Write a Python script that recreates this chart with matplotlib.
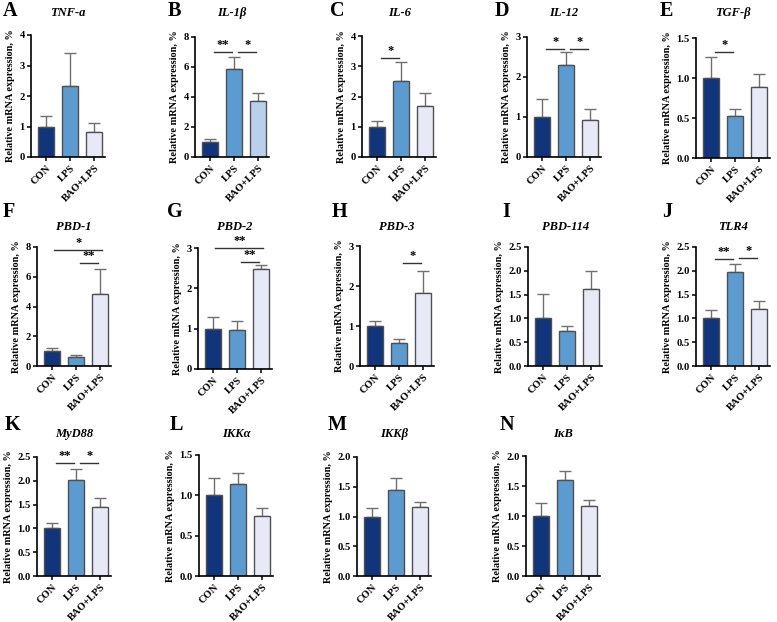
import matplotlib
matplotlib.use("Agg")
import matplotlib.pyplot as plt
import numpy as np

plt.rcParams['font.family'] = ['Liberation Serif', 'DejaVu Serif']
plt.rcParams['font.weight'] = 'bold'

groups = ["CON", "LPS", "BAO+LPS"]

letters = ["A", "B", "C", "D", "E", "F", "G", "H", "I", "J", "K", "L", "M", "N"]
genes = ["TNF-a", "IL-1β", "IL-6", "IL-12", "TGF-β", "PBD-1", "PBD-2", "PBD-3",
         "PBD-114", "TLR4", "MyD88", "IKKα", "IKKβ", "IκB"]

means = [
    [1.00, 2.32, 0.83],
    [1.00, 5.88, 3.75],
    [1.00, 2.50, 1.68],
    [1.00, 2.30, 0.92],
    [1.00, 0.52, 0.89],
    [1.00, 0.62, 4.85],
    [1.00, 0.96, 2.48],
    [1.00, 0.58, 1.82],
    [1.00, 0.73, 1.61],
    [1.00, 1.97, 1.20],
    [1.00, 2.02, 1.46],
    [1.00, 1.14, 0.74],
    [1.00, 1.45, 1.16],
    [1.00, 1.60, 1.16],
]
errors = [
    [0.33, 1.10, 0.30],
    [0.17, 0.80, 0.55],
    [0.18, 0.63, 0.45],
    [0.44, 0.33, 0.28],
    [0.26, 0.09, 0.16],
    [0.22, 0.15, 1.65],
    [0.30, 0.24, 0.09],
    [0.12, 0.09, 0.56],
    [0.52, 0.11, 0.39],
    [0.17, 0.17, 0.16],
    [0.11, 0.22, 0.17],
    [0.22, 0.14, 0.10],
    [0.15, 0.20, 0.08],
    [0.21, 0.15, 0.11],
]
ymax = [4, 8, 4, 3, 1.5, 8, 3, 3, 2.5, 2.5, 2.5, 1.5, 2.0, 2.0]
ystep = [1, 2, 1, 1, 0.5, 2, 1, 1, 0.5, 0.5, 0.5, 0.5, 0.5, 0.5]

# significance: (panel index, group i, group j, y, label)
sig = [
    (1, 0, 1, 7.0, "**"), (1, 1, 2, 7.0, "*"),
    (2, 0, 1, 3.26, "*"),
    (3, 0, 1, 2.69, "*"), (3, 1, 2, 2.69, "*"),
    (4, 0, 1, 1.32, "*"),
    (5, 0, 2, 7.8, "*"), (5, 1, 2, 6.94, "**"),
    (6, 0, 2, 2.99, "**"), (6, 1, 2, 2.65, "**"),
    (7, 1, 2, 2.57, "*"),
    (9, 0, 1, 2.24, "**"), (9, 1, 2, 2.27, "*"),
    (10, 0, 1, 2.37, "**"), (10, 1, 2, 2.37, "*"),
]

colors = ["#10357a", "#5b9bd0", "#e7e9f7"]
colors_B = ["#10357a", "#5b9bd0", "#b9d0ec"]

W, H = 777, 622
fig = plt.figure(figsize=(W / 100, H / 100), dpi=100)

# pixel layout: (axis left x, top y, bottom y)
layout = [
    (31, 35, 157), (195, 37, 157), (362, 36, 157), (527, 37, 157), (696, 38, 158),
    (37, 247, 366), (198, 248, 369), (360, 246, 366), (528, 247, 366), (696, 247, 366),
    (37, 457, 576), (199, 455, 576), (357, 457, 576), (526, 456, 576),
]
letter_pos = [
    (3, 11), (168, 11), (330, 11), (495, 11), (660, 11),
    (3, 212), (167, 212), (332, 212), (502, 212), (662, 212),
    (5, 425), (170, 425), (328, 425), (500, 425),
]
title_y = [13] * 5 + [227] * 5 + [434] * 4

xlo, xhi = -0.64, 2.45
unit = 24.0
for k in range(14):
    x0, y0, y1 = layout[k]
    w = (xhi - xlo) * unit
    ax = fig.add_axes([x0 / W, 1 - y1 / H, w / W, (y1 - y0) / H])
    cols = colors_B if k == 1 else colors
    x = np.arange(3)
    ax.bar(x, means[k], width=0.66, color=cols, edgecolor="#505050", linewidth=1.0, zorder=2)
    ax.errorbar(x, means[k], yerr=[np.zeros(3), errors[k]], fmt="none",
                ecolor="#707070", elinewidth=1.0, capsize=4, capthick=1.0, zorder=1)
    ax.set_xlim(xlo, xhi)
    ax.set_ylim(0, ymax[k])
    ticks = np.arange(0, ymax[k] + 1e-9, ystep[k])
    ax.set_yticks(ticks)
    if ystep[k] < 1:
        ax.set_yticklabels([f"{v:.1f}" for v in ticks])
    else:
        ax.set_yticklabels([f"{int(v)}" for v in ticks])
    ax.set_xticks(x)
    ax.set_xticklabels(groups, rotation=45, ha="right", rotation_mode="anchor")
    for s in ["top", "right"]:
        ax.spines[s].set_visible(False)
    for s in ["left", "bottom"]:
        ax.spines[s].set_linewidth(1.2)
    ax.tick_params(axis="both", length=3, width=1.1, labelsize=7.6, pad=1.5)
    for lab in ax.get_xticklabels() + ax.get_yticklabels():
        lab.set_fontweight("bold")
    ax.set_ylabel("Relative mRNA expression, %", fontsize=7.4, fontweight="bold", labelpad=3)
    cx = (x0 + w / 2) / W
    fig.text(cx, 1 - title_y[k] / H, genes[k], ha="center", va="center",
             fontsize=9, fontweight="bold", fontstyle="italic")
    lx, ly = letter_pos[k]
    fig.text(lx / W, 1 - ly / H, letters[k], ha="left", va="center",
             fontsize=14.5, fontweight="bold")
    for (p, i, j, yv, lab) in sig:
        if p != k:
            continue
        if j - i == 1:
            xa, xb = i + 0.15, j - 0.08
        else:
            xa, xb = i + 0.08, j + 0.08
        ax.plot([xa, xb], [yv, yv], color="#333333", linewidth=1.0, clip_on=False)
        ax.text((xa + xb) / 2, yv + ymax[k] * 0.01, lab, ha="center", va="bottom",
                fontsize=9, fontweight="bold", clip_on=False)

fig.savefig("out.png", dpi=100)
